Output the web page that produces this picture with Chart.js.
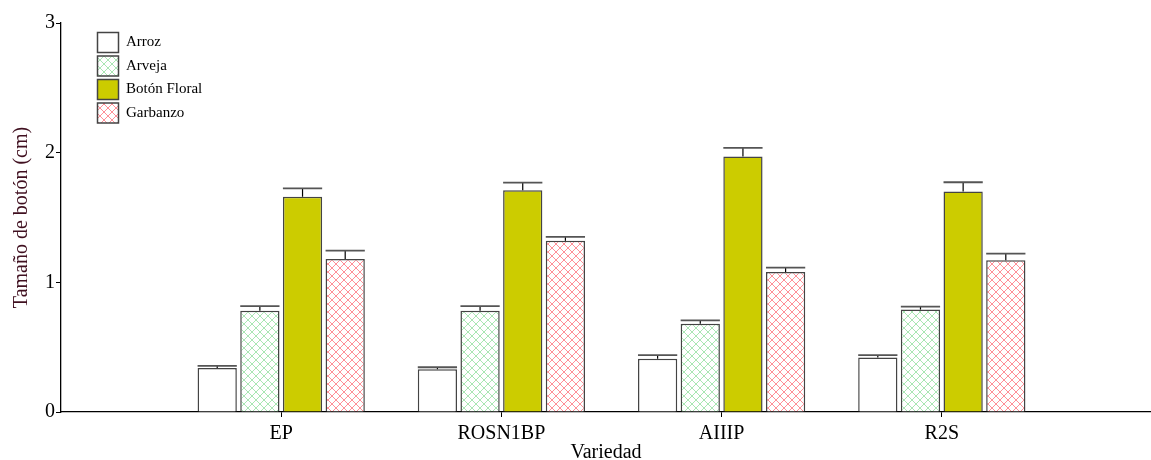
<!DOCTYPE html>
<html>
<head>
<meta charset="utf-8">
<script src="https://cdn.jsdelivr.net/npm/chart.js@4.4.0/dist/chart.umd.min.js"></script>
<style>
  html, body { margin: 0; padding: 0; background: #fff; overflow: hidden; }
  #wrap { width: 1151px; height: 460px; }
</style>
</head>
<body>
<div id="wrap"><canvas id="barChart" width="1151" height="460"></canvas></div>
<script>
// tamaño medio de botón por variedad y dieta, con error estándar
var varieties = ['EP', 'ROSN1BP', 'AIIIP', 'R2S'];
var arroz = [0.34, 0.33, 0.41, 0.42];
var arveja = [0.78, 0.78, 0.68, 0.79];
var boton = [1.66, 1.71, 1.97, 1.70];
var garbanzo = [1.18, 1.32, 1.08, 1.17];

var arrozErr = [0.015, 0.015, 0.028, 0.018];
var arvejaErr = [0.036, 0.036, 0.026, 0.023];
var botonErr = [0.064, 0.059, 0.067, 0.072];
var garbanzoErr = [0.065, 0.031, 0.033, 0.051];

var yTicks = [0, 1, 2, 3];

Chart.defaults.font.family = "'Liberation Serif', 'Times New Roman', serif";
Chart.defaults.color = '#000';

// trama cruzada en diagonal para los rellenos de Arveja y Garbanzo
function makeHatch(color) {
  var c = document.createElement('canvas');
  c.width = 8;
  c.height = 8;
  var g = c.getContext('2d');
  g.fillStyle = '#fff';
  g.fillRect(0, 0, 8, 8);
  g.strokeStyle = color;
  g.lineWidth = 1;
  g.beginPath();
  g.moveTo(-1, -1); g.lineTo(9, 9);
  g.moveTo(9, -1); g.lineTo(-1, 9);
  g.stroke();
  return g.createPattern(c, 'repeat');
}

function toPoints(values) {
  return values.map(function(v, i) { return { x: i + 1, y: v }; });
}

var errorBars = {
  id: 'errorBars',
  afterDatasetsDraw: function(chart) {
    var ctx = chart.ctx;
    var yScale = chart.scales.y;
    ctx.save();
    chart.data.datasets.forEach(function(ds, di) {
      var meta = chart.getDatasetMeta(di);
      meta.data.forEach(function(bar, i) {
        var top = yScale.getPixelForValue(ds.data[i].y);
        var capY = yScale.getPixelForValue(ds.data[i].y + ds.errors[i]);
        var half = bar.width / 2;
        ctx.strokeStyle = '#000';
        ctx.lineWidth = 1.2;
        ctx.beginPath();
        ctx.moveTo(bar.x, top);
        ctx.lineTo(bar.x, capY);
        ctx.stroke();
        ctx.strokeStyle = '#555';
        ctx.lineWidth = 1.8;
        ctx.beginPath();
        ctx.moveTo(bar.x - half, capY);
        ctx.lineTo(bar.x + half, capY);
        ctx.stroke();
      });
    });
    ctx.restore();
  }
};

// coloca la leyenda dentro del área, arriba a la izquierda
var legendPlacement = {
  id: 'legendPlacement',
  afterLayout: function(chart) {
    if (chart.legend) {
      chart.legend.left = 94;
      chart.legend.top = 29;
    }
  }
};

var ctx = document.getElementById('barChart').getContext('2d');

var edge = '#444';

window.budChart = new Chart(ctx, {
  type: 'bar',
  data: {
    datasets: [
      { label: 'Arroz', data: toPoints(arroz), errors: arrozErr, backgroundColor: '#fff', borderColor: edge, borderWidth: 1.5 },
      { label: 'Arveja', data: toPoints(arveja), errors: arvejaErr, backgroundColor: makeHatch('#a9e6b3'), borderColor: edge, borderWidth: 1.5 },
      { label: 'Botón Floral', data: toPoints(boton), errors: botonErr, backgroundColor: '#cccc00', borderColor: edge, borderWidth: 1.5 },
      { label: 'Garbanzo', data: toPoints(garbanzo), errors: garbanzoErr, backgroundColor: makeHatch('#ff8f97'), borderColor: edge, borderWidth: 1.5 }
    ]
  },
  options: {
    responsive: false,
    animation: false,
    categoryPercentage: 0.775,
    barPercentage: 0.92,
    layout: { padding: { top: 23, right: 0, bottom: 0, left: 0 } },
    plugins: {
      tooltip: { enabled: false },
      legend: {
        position: 'chartArea',
        align: 'start',
        labels: {
          boxWidth: 21,
          boxHeight: 20,
          padding: 3.5,
          font: { size: 15 }
        }
      }
    },
    scales: {
      x: {
        type: 'linear',
        min: 0,
        max: 4.95,
        offset: false,
        afterBuildTicks: function(scale) {
          scale.ticks = varieties.map(function(_, i) { return { value: i + 1 }; });
        },
        ticks: {
          font: { size: 20 },
          padding: 5,
          maxRotation: 0,
          callback: function(v) { return varieties[v - 1]; }
        },
        grid: { offset: false, drawOnChartArea: false, drawTicks: true, tickLength: 5, tickColor: '#000' },
        border: { color: '#000', width: 1.3 },
        title: { display: true, text: 'Variedad', font: { size: 20 }, padding: { top: 0, bottom: -5 } },
        afterFit: function(scale) { scale.height = 48; }
      },
      y: {
        min: 0,
        max: 3,
        afterBuildTicks: function(scale) {
          scale.ticks = yTicks.map(function(v) { return { value: v }; });
        },
        ticks: { font: { size: 20 }, padding: 1 },
        grid: { drawOnChartArea: false, drawTicks: true, tickLength: 5, tickColor: '#000' },
        border: { color: '#000', width: 1.3 },
        title: { display: true, text: 'Tamaño de botón (cm)', color: '#401020', font: { size: 20 }, padding: { top: 10, bottom: 0 } },
        afterFit: function(scale) { scale.width = 61; }
      }
    }
  },
  plugins: [errorBars, legendPlacement]
});
</script>
</body>
</html>
